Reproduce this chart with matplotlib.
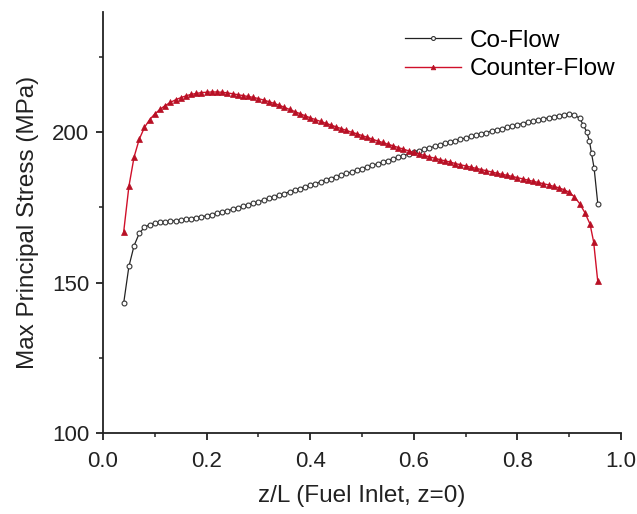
import matplotlib
matplotlib.use("Agg")
import matplotlib.pyplot as plt
from matplotlib.ticker import MultipleLocator, FormatStrFormatter

plt.rcParams['font.family'] = ['Liberation Sans', 'DejaVu Sans']

co_x = [0.04, 0.05, 0.06, 0.07, 0.08, 0.09, 0.10, 0.11, 0.12, 0.13, 0.14, 0.15, 0.16, 0.17, 0.18, 0.19,
        0.20, 0.21, 0.22, 0.23, 0.24, 0.25, 0.26, 0.27, 0.28, 0.29, 0.30, 0.31, 0.32, 0.33, 0.34, 0.35,
        0.36, 0.37, 0.38, 0.39, 0.40, 0.41, 0.42, 0.43, 0.44, 0.45, 0.46, 0.47, 0.48, 0.49, 0.50, 0.51,
        0.52, 0.53, 0.54, 0.55, 0.56, 0.57, 0.58, 0.59, 0.60, 0.61, 0.62, 0.63, 0.64, 0.65, 0.66, 0.67,
        0.68, 0.69, 0.70, 0.71, 0.72, 0.73, 0.74, 0.75, 0.76, 0.77, 0.78, 0.79, 0.80, 0.81, 0.82, 0.83,
        0.84, 0.85, 0.86, 0.87, 0.88, 0.89, 0.90, 0.91, 0.92, 0.927, 0.934, 0.939, 0.943, 0.948, 0.955]
co_y = [143.3, 155.4, 162.3, 166.4, 168.4, 169.3, 169.7, 170.0, 170.2, 170.4, 170.6, 170.8, 171.0, 171.3, 171.6, 171.9,
        172.2, 172.6, 173.0, 173.4, 173.9, 174.4, 174.9, 175.4, 175.9, 176.4, 176.9, 177.4, 178.0, 178.5, 179.1, 179.6,
        180.2, 180.7, 181.3, 181.8, 182.4, 182.9, 183.5, 184.1, 184.6, 185.2, 185.7, 186.3, 186.8, 187.4, 187.9, 188.5,
        189.0, 189.5, 190.1, 190.6, 191.2, 191.7, 192.2, 192.8, 193.3, 193.8, 194.3, 194.8, 195.3, 195.8, 196.3, 196.8,
        197.2, 197.7, 198.1, 198.6, 199.0, 199.5, 199.9, 200.4, 200.8, 201.2, 201.6, 202.0, 202.5, 202.9, 203.3, 203.7,
        204.0, 204.4, 204.8, 205.1, 205.5, 205.8, 206.0, 205.8, 204.6, 202.5, 200.0, 197.0, 193.0, 188.0, 176.3]

counter_x = [0.04, 0.05, 0.06, 0.07, 0.08, 0.09, 0.10, 0.11, 0.12, 0.13, 0.14, 0.15, 0.16, 0.17, 0.18, 0.19,
             0.20, 0.21, 0.22, 0.23, 0.24, 0.25, 0.26, 0.27, 0.28, 0.29, 0.30, 0.31, 0.32, 0.33, 0.34, 0.35,
             0.36, 0.37, 0.38, 0.39, 0.40, 0.41, 0.42, 0.43, 0.44, 0.45, 0.46, 0.47, 0.48, 0.49, 0.50, 0.51,
             0.52, 0.53, 0.54, 0.55, 0.56, 0.57, 0.58, 0.59, 0.60, 0.61, 0.62, 0.63, 0.64, 0.65, 0.66, 0.67,
             0.68, 0.69, 0.70, 0.71, 0.72, 0.73, 0.74, 0.75, 0.76, 0.77, 0.78, 0.79, 0.80, 0.81, 0.82, 0.83,
             0.84, 0.85, 0.86, 0.87, 0.88, 0.89, 0.90, 0.91, 0.92, 0.93, 0.94, 0.947, 0.955]
counter_y = [167.0, 182.0, 191.8, 197.7, 201.6, 204.2, 206.1, 207.6, 208.9, 209.9, 210.8, 211.5, 212.1, 212.6, 212.9, 213.2,
             213.3, 213.4, 213.4, 213.3, 213.1, 212.8, 212.5, 212.2, 211.9, 211.6, 211.2, 210.7, 210.2, 209.6, 209.0, 208.3,
             207.6, 206.9, 206.2, 205.5, 204.8, 204.2, 203.6, 203.0, 202.4, 201.8, 201.2, 200.6, 200.0, 199.5, 198.9, 198.3,
             197.7, 197.1, 196.6, 196.0, 195.5, 194.9, 194.4, 193.8, 193.3, 192.8, 192.3, 191.8, 191.4, 190.9, 190.5, 190.1,
             189.6, 189.2, 188.8, 188.4, 188.0, 187.6, 187.2, 186.8, 186.4, 186.0, 185.7, 185.3, 184.9, 184.5, 184.1, 183.7,
             183.3, 182.9, 182.5, 182.0, 181.5, 180.9, 180.0, 178.5, 176.3, 173.3, 169.5, 163.6, 150.4]

series_labels = ["Co-Flow", "Counter-Flow"]
x_label = "z/L (Fuel Inlet, z=0)"
y_label = "Max Principal Stress (MPa)"

fig = plt.figure(figsize=(6.37, 5.14), dpi=100)
ax = fig.add_axes([0.1617, 0.1576, 0.8133, 0.8191])

ax.plot(co_x, co_y, color="#222222", lw=0.9, marker="o", ms=3.5, mfc="white",
        mec="#333333", mew=0.8, label=series_labels[0])
ax.plot(counter_x, counter_y, color="#d0102a", lw=1.0, marker="^", ms=4.2, mfc="#b81025",
        mec="#b81025", mew=0.5, label=series_labels[1])

ax.set_xlim(0.0, 1.0)
ax.set_ylim(100, 240)
ax.xaxis.set_major_locator(MultipleLocator(0.2))
ax.xaxis.set_minor_locator(MultipleLocator(0.1))
ax.yaxis.set_major_locator(MultipleLocator(50))
ax.yaxis.set_minor_locator(MultipleLocator(25))
ax.xaxis.set_major_formatter(FormatStrFormatter("%.1f"))

for s in ["top", "right"]:
    ax.spines[s].set_visible(False)
for s in ["left", "bottom"]:
    ax.spines[s].set_linewidth(1.3)
    ax.spines[s].set_color("#222222")

ax.tick_params(axis="both", which="major", direction="out", length=5, width=1.3,
               labelsize=16, colors="#222222")
ax.tick_params(axis="both", which="minor", direction="out", length=3, width=1.1, colors="#222222")
ax.tick_params(axis="x", which="major", pad=8)
ax.tick_params(axis="y", which="major", pad=5)

ax.set_xlabel(x_label, fontsize=17.5, color="#222222", labelpad=9)
ax.set_ylabel(y_label, fontsize=17.5, color="#222222", labelpad=9)

leg = ax.legend(loc="upper left", bbox_to_anchor=(0.583, 0.958), frameon=False, fontsize=17.5,
                borderpad=0, borderaxespad=0, handlelength=2.3, handletextpad=0.35,
                labelspacing=0.28, markerscale=0.8)

fig.savefig("out.png", dpi=100, facecolor="white")
